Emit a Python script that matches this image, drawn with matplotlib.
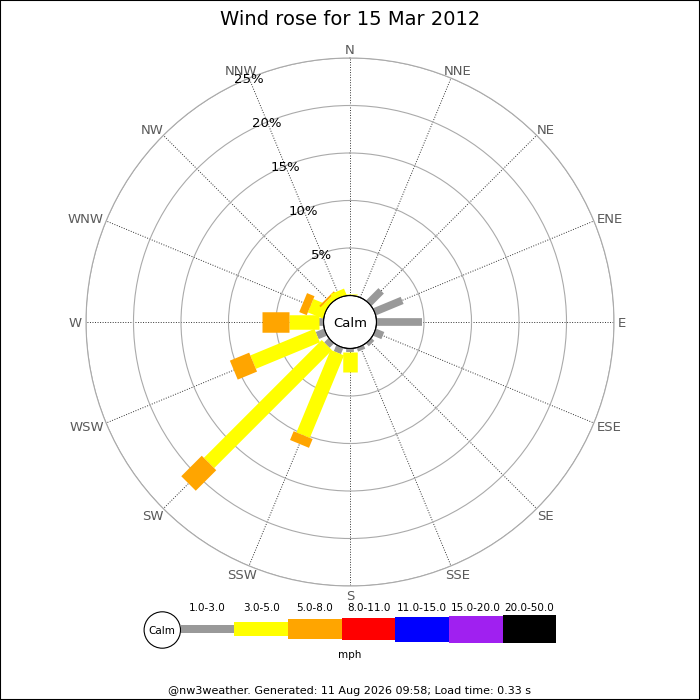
import numpy as np
import matplotlib
matplotlib.use('Agg')
import matplotlib.pyplot as plt
from matplotlib.patches import Rectangle, Circle

# ---------------- data ----------------
directions = ['N', 'NNE', 'NE', 'ENE', 'E', 'ESE', 'SE', 'SSE',
              'S', 'SSW', 'SW', 'WSW', 'W', 'WNW', 'NW', 'NNW']
# percentage of time per direction and speed band (mph)
pct_1_3 = [0.0, 0.0, 1.85, 3.15, 4.75, 0.95, 0.42, 0.42,
           0.35, 0.7, 0.65, 0.95, 0.5, 0.0, 0.0, 0.0]
pct_3_5 = [0.15, 0.0, 0.0, 0.0, 0.0, 0.0, 0.0, 0.0,
           2.1, 9.4, 17.55, 7.3, 3.1, 1.7, 0.5, 0.7]
pct_5_8 = [0.0, 0.0, 0.0, 0.0, 0.0, 0.0, 0.0, 0.0,
           0.0, 1.0, 3.05, 2.2, 2.9, 0.85, 0.2, 0.0]
band_labels = ['1.0-3.0', '3.0-5.0', '5.0-8.0', '8.0-11.0',
               '11.0-15.0', '15.0-20.0', '20.0-50.0']
band_colors = ['#999999', '#ffff00', '#ffa500', '#ff0000',
               '#0000ff', '#a020f0', '#000000']
ring_pct = [5, 10, 15, 20, 25]
title = 'Wind rose for 15 Mar 2012'
footer = '@nw3weather. Generated: 11 Aug 2026 09:58; Load time: 0.33 s'
unit = 'mph'

# ---------------- style ----------------
W = H = 700
band_px = [7.7, 14.5, 20.5, 22.7, 25, 27, 28.3]   # bar thickness in pixels
DPI = 100
px2pt = 72.0 / DPI
ring_col = '#aaaaaa'
lab_col = '#5a5a5a'
fs = 9.5

fig = plt.figure(figsize=(W / DPI, H / DPI), dpi=DPI)
fig.patch.set_facecolor('white')

cx, cy, R = 350, 322, 264
ax = fig.add_axes([(cx - R) / W, (H - cy - R) / H, 2 * R / W, 2 * R / H],
                  projection='polar')
ax.set_theta_zero_location('N')
ax.set_theta_direction(-1)
ax.set_ylim(0, 25)
ax.set_rorigin(-2.79)
theta = np.deg2rad(np.arange(16) * 22.5)
ax.set_xticks(theta)
ax.set_xticklabels([])
ax.set_yticks(ring_pct)
ax.set_yticklabels([])
ax.tick_params(length=0)
ax.yaxis.grid(True, color=ring_col, linestyle='-', linewidth=0.8)
ax.xaxis.grid(True, color='#333333', linestyle=(0, (1, 1.6)), linewidth=0.7)
ax.spines['polar'].set_color(ring_col)
ax.spines['polar'].set_linewidth(0.8)
ax.spines['inner'].set_visible(False)
ax.set_axisbelow(True)

# bars
bands = [pct_1_3, pct_3_5, pct_5_8]
for i, th in enumerate(theta):
    base = 0.0
    for b, vals in enumerate(bands):
        v = vals[i]
        if v <= 0:
            continue
        ax.plot([th, th], [base, base + v], color=band_colors[b],
                linewidth=band_px[b] * px2pt, solid_capstyle='butt', zorder=3)
        base += v

# calm circle
tt = np.linspace(0, 2 * np.pi, 400)
ax.plot(tt, np.zeros_like(tt), color='black', linewidth=0.8, clip_on=False, zorder=5)
ax.text(0.5, 0.5, 'Calm', transform=ax.transAxes, ha='center', va='center_baseline',
        fontsize=fs, zorder=6)

# ring labels along NNW
for r in ring_pct:
    ax.text(np.deg2rad(337.5), r, f'{r}%', ha='center', va='center_baseline',
            fontsize=fs, color='black', zorder=6)

# direction labels
texts = []
for th, lbl in zip(theta, directions):
    t = ax.annotate(lbl, xy=(th, 25), xytext=(0, 0), textcoords='offset pixels',
                    ha='center', va='center_baseline', fontsize=fs, color=lab_col,
                    annotation_clip=False)
    texts.append(t)
fig.canvas.draw()
rend = fig.canvas.get_renderer()
gap = 4.0
for th, t in zip(theta, texts):
    w = t.get_window_extent(rend).width
    h = 10.0
    s, c = np.sin(th), np.cos(th)
    ox = gap * s + (w / 2) * s
    oy = gap * c + (h / 2) * c
    t.set_position((ox, oy))

# title and footer
fig.text(0.5, 1 - 17.5 / H, title, ha='center', va='center_baseline', fontsize=14)
fig.text(0.5, 1 - 690 / H, footer, ha='center', va='center_baseline', fontsize=8)

# legend
lax = fig.add_axes([0, 0, 1, 1], facecolor='none')
lax.set_xlim(0, W)
lax.set_ylim(H, 0)
lax.axis('off')
ly = 629
x0, seg = 180.5, 53.7
lax.add_patch(Circle((162.3, ly + 1), 18.2, facecolor='white', edgecolor='black', linewidth=0.8))
lax.text(162.3, ly + 1, 'Calm', ha='center', va='center_baseline', fontsize=7.5)
for k, (lbl, col) in enumerate(zip(band_labels, band_colors)):
    hh = band_px[k]
    lax.add_patch(Rectangle((x0 + k * seg, ly - hh / 2), seg, hh,
                            facecolor=col, edgecolor='none'))
    lax.text(x0 + k * seg + seg / 2, 607, lbl, ha='center', va='center_baseline', fontsize=7.5)
lax.text(350, 654, unit, ha='center', va='center_baseline', fontsize=7.5)

fig.add_artist(Rectangle((0, 0), 1, 1, transform=fig.transFigure, fill=False,
                         edgecolor='black', linewidth=1.5))

fig.savefig('out.png', dpi=DPI)
